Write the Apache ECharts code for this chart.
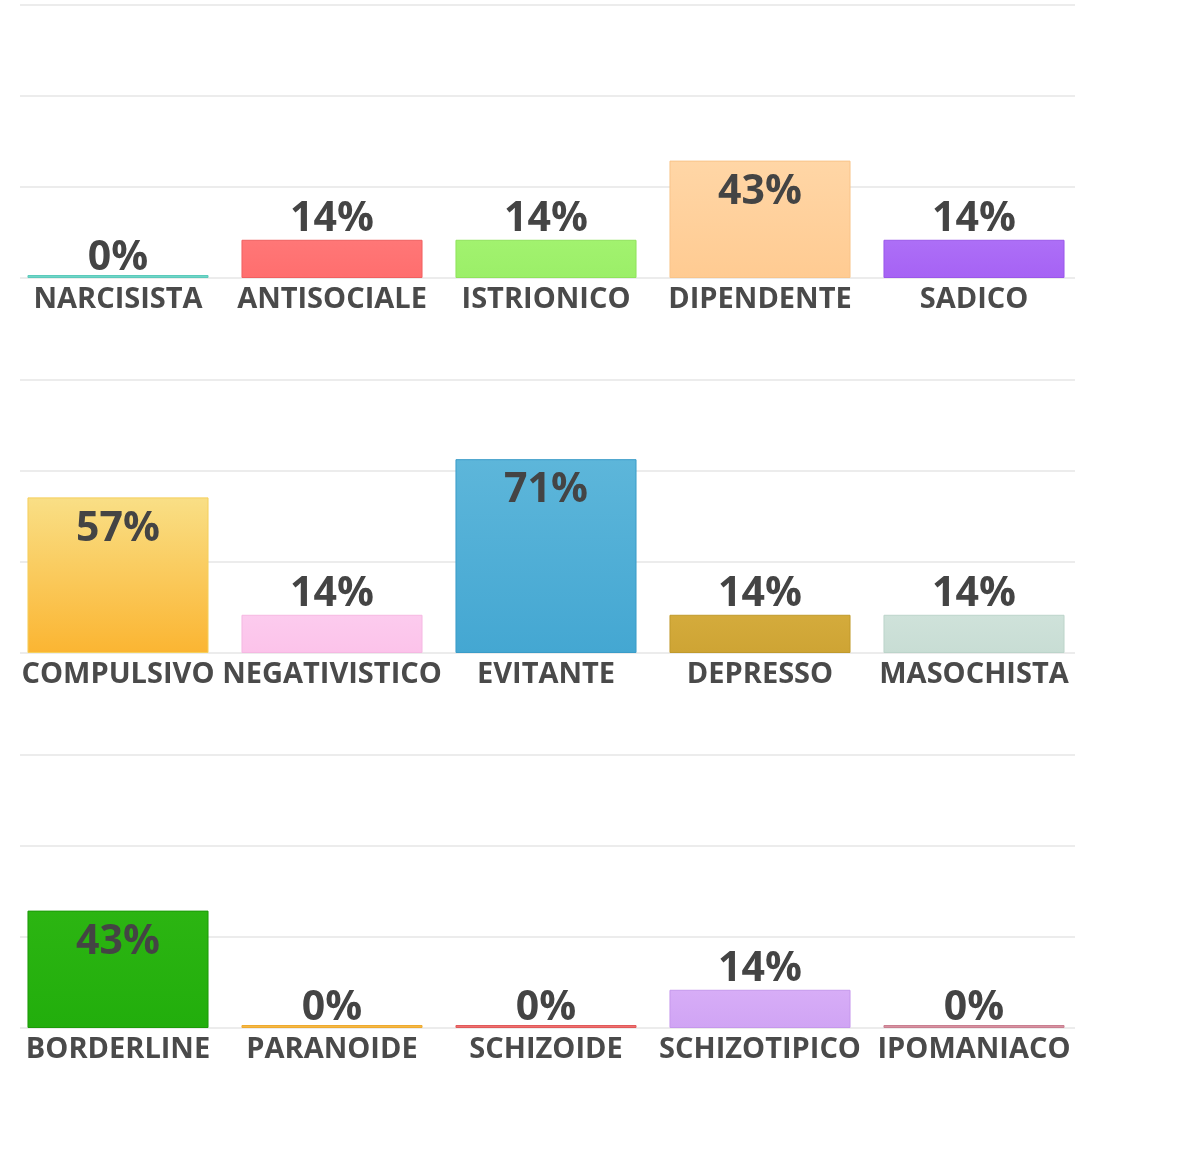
<!DOCTYPE html>
<html>
<head>
<meta charset="utf-8">
<script src="https://cdn.jsdelivr.net/npm/echarts@6/dist/echarts.min.js"></script>
<style>
  html, body { margin: 0; padding: 0; background: #fff; }
  #chart { width: 1179px; height: 1157px; }
</style>
</head>
<body>
<div id="chart"></div>
<script>
// three rows of five categories each
const row1Names = ['NARCISISTA', 'ANTISOCIALE', 'ISTRIONICO', 'DIPENDENTE', 'SADICO'];
const row1Values = [0, 14, 14, 43, 14];
const row2Names = ['COMPULSIVO', 'NEGATIVISTICO', 'EVITANTE', 'DEPRESSO', 'MASOCHISTA'];
const row2Values = [57, 14, 71, 14, 14];
const row3Names = ['BORDERLINE', 'PARANOIDE', 'SCHIZOIDE', 'SCHIZOTIPICO', 'IPOMANIACO'];
const row3Values = [43, 0, 0, 14, 0];

// [top, bottom, border] per bar
const row1Colors = [
  ['#74d9cb', '#6ad3c4', '#5ccabb'],
  ['#ff7777', '#ff6e6e', '#f06060'],
  ['#a2f26f', '#9bef68', '#8fe35c'],
  ['#ffd6a6', '#ffcb92', '#f8c48a'],
  ['#ad6ff7', '#a662f4', '#9a58ea']
];
const row2Colors = [
  ['#f9df86', '#fbb532', '#f5cf5c'],
  ['#fccbee', '#fcc3ea', '#f5b8e2'],
  ['#5db6da', '#44a7d2', '#3a9cc8'],
  ['#d4ab3c', '#cea434', '#c09a2c'],
  ['#cfe2da', '#c8ddd4', '#bcd4ca']
];
const row3Colors = [
  ['#2cb512', '#22ae0c', '#1c9a08'],
  ['#f7bd4a', '#f5b53e', '#eeaa30'],
  ['#f27575', '#ef6a6a', '#e05a5a'],
  ['#d7adf7', '#d0a4f4', '#c598ec'],
  ['#db97a6', '#d68c9c', '#c97f90']
];

const gridTops = [5, 380, 755];
const plotHeight = 273;

function labelFor(v) {
  if (v >= 40) return { position: 'insideTop', distance: 11 };
  if (v === 0) return { position: 'top', distance: -4 };
  return { position: 'top', distance: 0 };
}

function buildData(values, colors) {
  return values.map((v, i) => {
    const c = colors[i];
    return {
      value: v,
      itemStyle: {
        color: new echarts.graphic.LinearGradient(0, 0, 0, 1, [
          { offset: 0, color: c[0] },
          { offset: 1, color: c[1] }
        ]),
        borderColor: c[2],
        borderWidth: 1
      },
      label: labelFor(v)
    };
  });
}

const rows = [
  { names: row1Names, values: row1Values, colors: row1Colors },
  { names: row2Names, values: row2Values, colors: row2Colors },
  { names: row3Names, values: row3Values, colors: row3Colors }
];

const myChart = echarts.init(document.getElementById('chart'));

// grids 0-2 hold the bars, grids 3-5 only draw the horizontal gridlines
const barGrids = rows.map((r, i) => ({ left: 11, width: 1070, top: gridTops[i], height: plotHeight }));
const lineGrids = rows.map((r, i) => ({ left: 20, width: 1055, top: gridTops[i], height: plotHeight }));

const barXAxes = rows.map((r, i) => ({
  type: 'category',
  gridIndex: i,
  data: r.names,
  axisLine: { show: false },
  axisTick: { show: false },
  axisLabel: {
    interval: 0,
    margin: 7,
    color: '#4a4a4a',
    fontFamily: 'Open Sans',
    fontWeight: 'bold',
    fontSize: 29
  }
}));
const lineXAxes = rows.map((r, i) => ({
  type: 'category',
  gridIndex: i + 3,
  data: r.names,
  show: false
}));

const barYAxes = rows.map((r, i) => ({
  type: 'value',
  gridIndex: i,
  min: 0,
  max: 100,
  interval: 100 / 3,
  show: false,
  splitLine: { show: false }
}));
const lineYAxes = rows.map((r, i) => ({
  type: 'value',
  gridIndex: i + 3,
  min: 0,
  max: 100,
  interval: 100 / 3,
  axisLabel: { show: false },
  axisLine: { show: false },
  axisTick: { show: false },
  splitLine: { lineStyle: { color: '#ececec', width: 2 } }
}));

let option = {
  backgroundColor: '#ffffff',
  animation: false,
  grid: barGrids.concat(lineGrids),
  xAxis: barXAxes.concat(lineXAxes),
  yAxis: barYAxes.concat(lineYAxes),
  series: rows.map((r, i) => ({
    type: 'bar',
    xAxisIndex: i,
    yAxisIndex: i,
    barCategoryGap: '15.4%',
    barMinHeight: 3,
    z: 3,
    data: buildData(r.values, r.colors),
    label: {
      show: true,
      formatter: '{c}%',
      color: '#444444',
      fontFamily: 'Open Sans',
      fontWeight: 'bold',
      fontSize: 41
    }
  }))
};

myChart.setOption(option);
</script>
</body>
</html>
